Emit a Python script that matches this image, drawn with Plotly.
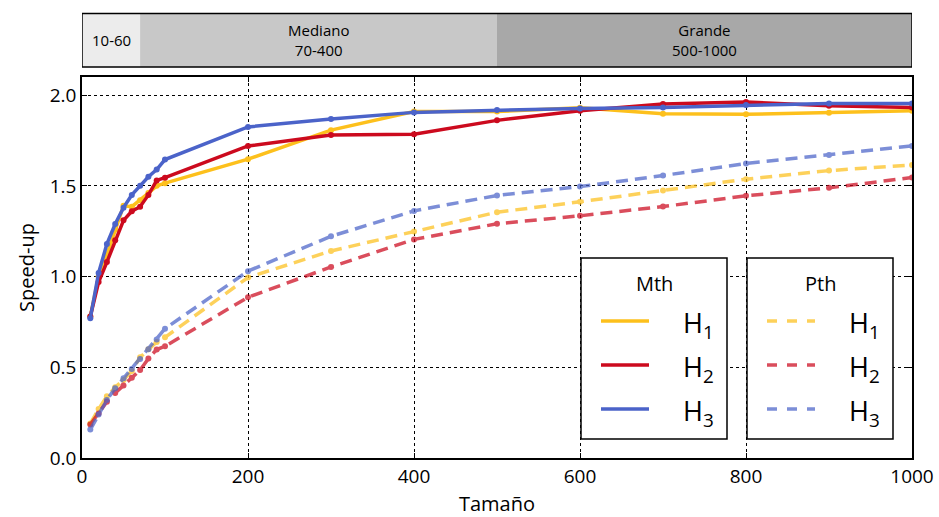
import plotly.graph_objects as go

# ---------------- data ----------------
tamano = [10, 20, 30, 40, 50, 60, 70, 80, 90, 100, 200, 300, 400, 500, 600, 700, 800, 900, 1000]

mth_h1 = [0.78, 1.00, 1.12, 1.26, 1.39, 1.385, 1.42, 1.46, 1.50, 1.515, 1.647, 1.807, 1.91, 1.91, 1.93, 1.897, 1.894, 1.903, 1.914]
mth_h2 = [0.78, 0.97, 1.08, 1.20, 1.31, 1.36, 1.385, 1.45, 1.53, 1.545, 1.72, 1.78, 1.784, 1.861, 1.914, 1.951, 1.962, 1.941, 1.932]
mth_h3 = [0.77, 1.02, 1.18, 1.29, 1.38, 1.45, 1.50, 1.55, 1.59, 1.645, 1.825, 1.868, 1.905, 1.918, 1.927, 1.932, 1.945, 1.954, 1.954]

pth_h1 = [0.19, 0.27, 0.34, 0.39, 0.43, 0.48, 0.555, 0.60, 0.64, 0.665, 0.995, 1.141, 1.249, 1.355, 1.412, 1.474, 1.537, 1.584, 1.615]
pth_h2 = [0.185, 0.245, 0.31, 0.358, 0.40, 0.443, 0.485, 0.548, 0.598, 0.616, 0.886, 1.053, 1.205, 1.291, 1.335, 1.386, 1.445, 1.489, 1.546]
pth_h3 = [0.157, 0.24, 0.32, 0.385, 0.44, 0.49, 0.545, 0.60, 0.653, 0.713, 1.03, 1.222, 1.362, 1.447, 1.496, 1.557, 1.623, 1.670, 1.72]

series_names = ["H<sub>1</sub>", "H<sub>2</sub>", "H<sub>3</sub>"]
group_titles = ["Mth", "Pth"]
x_ticks = [0, 200, 400, 600, 800, 1000]
y_ticks = [0.0, 0.5, 1.0, 1.5, 2.0]

bands = [(0, 70, "10-60"), (70, 500, "Mediano<br>70-400"), (500, 1000, "Grande<br>500-1000")]

# ---------------- styles ----------------
colors = ["#fdc01c", "#cc0a1e", "#4b63c9"]
FONT = "Open Sans"
W, H = 939, 517
ML, MR, MT, MB = 82, 27, 77, 59
PW, PH = W - ML - MR, H - MT - MB
DASH = "12px,7px"
PTH_OPACITY = 0.72


def px(xp):
    return (xp - ML) / PW


def py(yp):
    return (H - MB - yp) / PH


fig = go.Figure()

groups = [[mth_h1, mth_h2, mth_h3], [pth_h1, pth_h2, pth_h3]]
for gi, (title, series) in enumerate(zip(group_titles, groups)):
    for vals, name, col in zip(series, series_names, colors):
        fig.add_trace(go.Scatter(
            x=tamano, y=vals, name=f"{title} {name}", mode="lines+markers",
            line=dict(color=col, width=3.5, dash="solid" if gi == 0 else DASH),
            marker=dict(color=col, size=6),
            opacity=1.0 if gi == 0 else PTH_OPACITY, showlegend=False,
        ))

# top band
band_fill = ["#ececec", "#c8c8c8", "#a8a8a8"]
y0b, y1b = py(67), py(13.5)
for (a, b, label), fc in zip(bands, band_fill):
    fig.add_shape(type="rect", xref="x", yref="paper", x0=a, x1=b, y0=y0b, y1=y1b,
                  fillcolor=fc, line=dict(width=0), layer="above")
    fig.add_annotation(x=(a + b) / 2, y=(y0b + y1b) / 2, xref="x", yref="paper",
                       yanchor="middle", xanchor="center",
                       text=label, showarrow=False, font=dict(family=FONT, size=15, color="black"))
fig.add_shape(type="rect", xref="x", yref="paper", x0=0, x1=1000, y0=y0b, y1=y1b,
              line=dict(color="black", width=1.5), fillcolor="rgba(0,0,0,0)", layer="above")

# legend boxes (two groups)
box_left = [581, 747]
box_w = 146
box_top, box_bot = 258, 439
item_y = [321, 365, 409]
for gi, title in enumerate(group_titles):
    bl = box_left[gi]
    fig.add_shape(type="rect", xref="paper", yref="paper",
                  x0=px(bl), x1=px(bl + box_w), y0=py(box_bot), y1=py(box_top),
                  fillcolor="white", line=dict(color="black", width=1.5), layer="above")
    fig.add_annotation(x=px(bl + box_w / 2), y=py(283), xref="paper", yref="paper",
                       xanchor="center", yanchor="middle", showarrow=False,
                       text=title, font=dict(family=FONT, size=20, color="black"))
    for yi, name, col in zip(item_y, series_names, colors):
        fig.add_shape(type="line", xref="paper", yref="paper",
                      x0=px(bl + 20), x1=px(bl + 68), y0=py(yi), y1=py(yi),
                      line=dict(color=col, width=3.5, dash="solid" if gi == 0 else "10px,10px"),
                      opacity=1.0 if gi == 0 else PTH_OPACITY, layer="above")
        fig.add_annotation(x=px(bl + 100), y=py(yi + 3), xref="paper", yref="paper",
                           xanchor="left", yanchor="middle", showarrow=False,
                           text=name, font=dict(family=FONT, size=27, color="black"))

axis_common = dict(
    showline=True, linecolor="black", linewidth=1.5, mirror="allticks",
    ticks="inside", ticklen=5, tickcolor="black", tickwidth=1,
    showgrid=True, gridcolor="black", gridwidth=1, griddash="dot",
    zeroline=False, automargin=False,
    tickfont=dict(family=FONT, size=19, color="black"),
)

fig.update_layout(
    width=W, height=H,
    margin=dict(l=ML, r=MR, t=MT, b=MB),
    paper_bgcolor="white", plot_bgcolor="white",
    font=dict(family=FONT, color="black"),
    showlegend=False,
    xaxis=dict(range=[0, 1000], tickvals=x_ticks,
               title=dict(text="Tamaño", font=dict(family=FONT, size=20), standoff=12),
               **axis_common),
    yaxis=dict(range=[0, 2.1], tickvals=y_ticks, tickformat=".1f",
               title=dict(text="Speed-up", font=dict(family=FONT, size=20), standoff=10),
               **axis_common),
)

fig.write_html("out.html")
